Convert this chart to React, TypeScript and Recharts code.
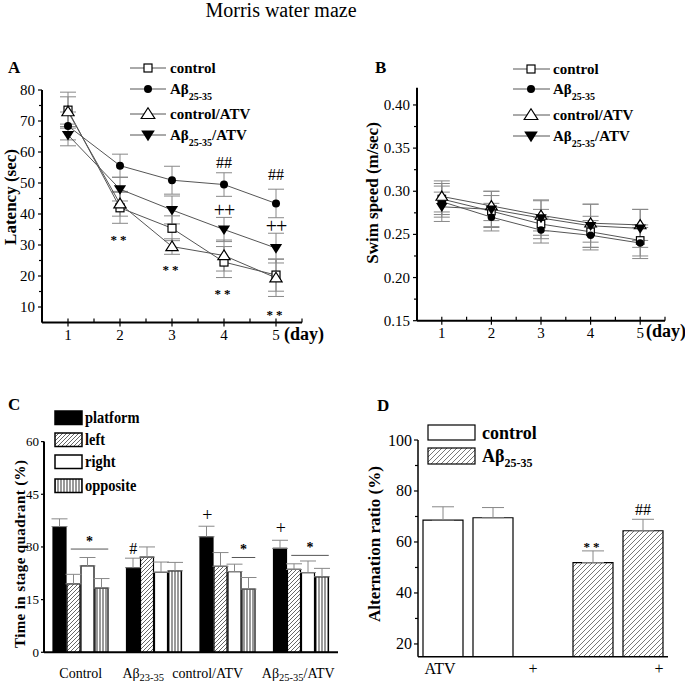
import React from 'react';
import { ComposedChart, Line, Bar, Cell, XAxis, YAxis, ErrorBar, ReferenceDot } from 'recharts';

const FONT = '"Liberation Serif", "Times New Roman", serif';

// ---------- Panel A: latency ----------
const days = [1, 2, 3, 4, 5];
const dayTicks = [0.5, 1, 1.5, 2, 2.5, 3, 3.5, 4, 4.5, 5, 5.5];
const latencyControl = [73.5, 42.0, 35.4, 24.5, 20.3];
const latencyControlErr = [5.8, 5.0, 4.0, 5.0, 5.2];
const latencyAbeta = [68.4, 55.6, 50.9, 49.5, 43.4];
const latencyAbetaErr = [4.5, 3.7, 4.5, 3.8, 4.6];
const latencyControlAtv = [73.0, 43.3, 29.5, 26.6, 19.4];
const latencyControlAtvErr = [4.8, 4.0, 2.5, 5.0, 6.0];
const latencyAbetaAtv = [65.5, 48.0, 41.3, 35.0, 29.0];
const latencyAbetaAtvErr = [3.5, 3.8, 4.5, 3.9, 4.8];
const latencyTicks = [10, 15, 20, 25, 30, 35, 40, 45, 50, 55, 60, 65, 70, 75, 80];
const latencyMarkDays = [2, 3, 4, 5, 4, 5, 4, 5];
const latencyMarkValues = [33.2, 23.5, 15.8, 8.8, 56.5, 52.8, 41.3, 36.1];
const latencyMarkTexts = ['**', '**', '**', '**', '##', '##', '++', '++'];

// ---------- Panel B: swim speed ----------
const speedControl = [0.291, 0.277, 0.262, 0.253, 0.243];
const speedControlErr = [0.018, 0.018, 0.017, 0.018, 0.018];
const speedAbeta = [0.288, 0.27, 0.255, 0.249, 0.24];
const speedAbetaErr = [0.018, 0.016, 0.015, 0.017, 0.018];
const speedControlAtv = [0.294, 0.283, 0.272, 0.263, 0.261];
const speedControlAtvErr = [0.018, 0.017, 0.018, 0.022, 0.018];
const speedAbetaAtv = [0.282, 0.279, 0.269, 0.26, 0.257];
const speedAbetaAtvErr = [0.017, 0.021, 0.02, 0.025, 0.022];
const speedTicks = [0.15, 0.175, 0.2, 0.225, 0.25, 0.275, 0.3, 0.325, 0.35, 0.375, 0.4];

// series (shared by A and B)
const seriesKeys = ['control', 'abeta', 'controlAtv', 'abetaAtv'];
const seriesMain = ['control', 'Aβ', 'control/ATV', 'Aβ'];
const seriesSub = ['', '25-35', '', '25-35'];
const seriesTail = ['', '', '', '/ATV'];
const seriesMarkers = ['square', 'circle', 'triUp', 'triDown'];

// ---------- Panel C: quadrant ----------
const quadrantGroups = ['Control', 'Aβ23-35', 'control/ATV', 'Aβ25-35/ATV'];
const quadrantLabelMain = ['Control', 'Aβ', 'control/ATV', 'Aβ'];
const quadrantLabelSub = ['', '23-35', '', '25-35'];
const quadrantLabelTail = ['', '', '', '/ATV'];
const platform = [35.8, 24.1, 32.9, 29.6];
const platformErr = [2.2, 2.7, 3.0, 2.3];
const left = [19.5, 27.1, 24.5, 23.6];
const leftErr = [2.7, 2.9, 3.9, 1.6];
const right = [24.6, 22.8, 23.0, 22.7];
const rightErr = [2.4, 2.9, 2.1, 3.3];
const opposite = [18.3, 23.2, 18.0, 21.5];
const oppositeErr = [2.7, 2.4, 3.3, 2.4];
const quadrantTicks = [0, 15, 30, 45, 60];
const quadrantSeries = ['platform', 'left', 'right', 'opposite'];
// significance brackets: group, first and last quadrant covered, level
const bracketGroups = ['Control', 'control/ATV', 'Aβ25-35/ATV'];
const bracketFrom = [1, 2, 1];
const bracketTo = [3, 3, 3];
const bracketValues = [29.4, 27.0, 27.6];
// marks above the platform bar
const platformMarkGroups = ['Aβ23-35', 'control/ATV', 'Aβ25-35/ATV'];
const platformMarkValues = [29.7, 39.0, 35.4];
const platformMarkTexts = ['#', '+', '+'];

// ---------- Panel D: alternation ----------
const alternationSlots = ['control-', 'control+', 'blank', 'abeta-', 'abeta+'];
const alternationTickLabels = ['ATV', '', '+', '', '+'];
const alternationGroup = ['control', 'control', '', 'abeta', 'abeta'];
const alternationValues = [68.6, 69.5, null, 51.9, 64.4];
const alternationErr = [5.2, 4.0, null, 4.6, 4.5];
const alternationTicks = [20, 30, 40, 50, 60, 70, 80, 90, 100];
const alternationMarkSlots = ['abeta-', 'abeta+'];
const alternationMarkValues = [59.6, 72.9];
const alternationMarkTexts = ['**', '##'];

// ---------- built tables ----------
const latencyData = days.map((d, i) => ({
  day: d,
  control: latencyControl[i], controlErr: latencyControlErr[i],
  abeta: latencyAbeta[i], abetaErr: latencyAbetaErr[i],
  controlAtv: latencyControlAtv[i], controlAtvErr: latencyControlAtvErr[i],
  abetaAtv: latencyAbetaAtv[i], abetaAtvErr: latencyAbetaAtvErr[i],
}));
const speedData = days.map((d, i) => ({
  day: d,
  control: speedControl[i], controlErr: speedControlErr[i],
  abeta: speedAbeta[i], abetaErr: speedAbetaErr[i],
  controlAtv: speedControlAtv[i], controlAtvErr: speedControlAtvErr[i],
  abetaAtv: speedAbetaAtv[i], abetaAtvErr: speedAbetaAtvErr[i],
}));
const quadrantData = quadrantGroups.map((g, i) => ({
  group: g,
  platform: platform[i], platformErr: platformErr[i],
  left: left[i], leftErr: leftErr[i],
  right: right[i], rightErr: rightErr[i],
  opposite: opposite[i], oppositeErr: oppositeErr[i],
}));
const alternationData = alternationSlots.map((s, i) => ({
  slot: s, value: alternationValues[i], err: alternationErr[i], group: alternationGroup[i],
}));

// ---------- helpers ----------
function Marker({ kind, cx, cy, size }: any) {
  const s = size;
  if (kind === 'square')
    return <rect x={cx - s / 2} y={cy - s / 2} width={s} height={s} fill="#fff" stroke="#000" strokeWidth={1.2} />;
  if (kind === 'circle') return <circle cx={cx} cy={cy} r={s / 2} fill="#000" />;
  const hw = s * 0.68;
  if (kind === 'triUp')
    return (
      <polygon
        points={`${cx},${cy - s * 0.62} ${cx - hw},${cy + s * 0.45} ${cx + hw},${cy + s * 0.45}`}
        fill="#fff" stroke="#000" strokeWidth={1.2}
      />
    );
  return (
    <polygon points={`${cx},${cy + s * 0.62} ${cx - hw},${cy - s * 0.45} ${cx + hw},${cy - s * 0.45}`} fill="#000" />
  );
}

const DayTick = (p: any) => {
  const { x, y, payload } = p;
  const v = payload.value;
  const major = Number.isInteger(v);
  return (
    <g>
      <line x1={x} x2={x} y1={y - 4} y2={major ? y + 4 : y} stroke="#000" strokeWidth={1.2} />
      {major && (
        <text x={x} y={y + 12} textAnchor="middle" dominantBaseline="central" fontSize={15} fontFamily={FONT} fill="#000">
          {v}
        </text>
      )}
    </g>
  );
};

const makeYTick = (isMajor: (v: number) => boolean, fmt: (v: number) => string, fontSize: number, majorLen: number, minorLen: number, gap: number) =>
  (p: any) => {
    const { x, y, payload } = p;
    const v = payload.value;
    const major = isMajor(v);
    return (
      <g>
        <line x1={x} x2={x - (major ? majorLen : minorLen)} y1={y} y2={y} stroke="#000" strokeWidth={1.2} />
        {major && (
          <text x={x - majorLen - gap} y={y} textAnchor="end" dominantBaseline="central" fontSize={fontSize} fontFamily={FONT} fill="#000">
            {fmt(v)}
          </text>
        )}
      </g>
    );
  };

const near = (a: number, b: number) => Math.abs(a - b) < 1e-6;
const LatencyYTick = makeYTick((v) => v % 10 === 0, (v) => String(v), 15, 4, 3, 3);
const SpeedYTick = makeYTick((v) => near(Math.round(v * 20) / 20, v), (v) => v.toFixed(2), 15, 4, 3, 3);
const QuadrantYTick = makeYTick(() => true, (v) => String(v), 13, 3, 2, 2);
const AlternationYTick = makeYTick((v) => v % 20 === 0, (v) => String(v), 16, 4, 3, 2);

const markStyle = (text: string) => {
  if (text.includes('*')) return { fontSize: text.length > 1 ? 13 : 14, weight: 'bold', dy: 4, spacing: text.length > 1 ? 3 : 0 };
  if (text.includes('#')) return { fontSize: 16, weight: 'normal', dy: 0, spacing: 0 };
  return { fontSize: text.length > 1 ? 20 : 18, weight: 'normal', dy: 0, spacing: -1 };
};
const MarkText = ({ x, y, text }: any) => {
  const st = markStyle(text);
  return (
    <text x={x} y={y + st.dy} textAnchor="middle" dominantBaseline="central" fontSize={st.fontSize}
      fontWeight={st.weight} letterSpacing={st.spacing} fontFamily={FONT} fill="#000">
      {text}
    </text>
  );
};
const markShape = (text: string, dx = 0) => (p: any) => <MarkText x={p.cx + dx} y={p.cy} text={text} />;

const axisStroke = { stroke: '#000', strokeWidth: 2 };

function LineSeries(sizes: number) {
  return seriesKeys.map((k, i) => (
    <Line
      key={k}
      dataKey={k}
      stroke="#555"
      strokeWidth={1}
      isAnimationActive={false}
      activeDot={false}
      dot={(p: any) => <Marker key={`${k}-${p.index}`} kind={seriesMarkers[i]} cx={p.cx} cy={p.cy} size={seriesMarkers[i].startsWith('tri') ? sizes + 1 : sizes} />}
    >
      <ErrorBar dataKey={`${k}Err`} width={8} stroke="#888" strokeWidth={1} direction="y" />
    </Line>
  ));
}

function LatencyChart() {
  return (
    <ComposedChart width={340} height={345} data={latencyData} margin={{ top: 90, right: 38, bottom: 2.5, left: 12 }}>
      <XAxis dataKey="day" type="number" domain={[0.5, 5.5]} ticks={dayTicks} interval={0} allowDataOverflow
        tickSize={0} tickMargin={0} tickLine={false} axisLine={axisStroke} tick={(p: any) => <DayTick {...p} />} height={20} />
      <YAxis type="number" domain={[5, 80]} ticks={latencyTicks} interval={0} allowDataOverflow
        tickSize={0} tickMargin={0} tickLine={false} axisLine={axisStroke} tick={LatencyYTick} width={30} />
      {LineSeries(8)}
      {latencyMarkTexts.map((t, i) => (
        <ReferenceDot key={`am${i}`} x={latencyMarkDays[i]} y={latencyMarkValues[i]} r={0} shape={markShape(t)} />
      ))}
    </ComposedChart>
  );
}

function SpeedChart() {
  return (
    <ComposedChart width={345} height={345} data={speedData} margin={{ top: 87.7, right: 20, bottom: 4.3, left: 37 }}>
      <XAxis dataKey="day" type="number" domain={[0.5, 5.5]} ticks={dayTicks} interval={0} allowDataOverflow
        tickSize={0} tickMargin={0} tickLine={false} axisLine={axisStroke} tick={(p: any) => <DayTick {...p} />} height={20} />
      <YAxis type="number" domain={[0.15, 0.42]} ticks={speedTicks} interval={0} allowDataOverflow
        tickSize={0} tickMargin={0} tickLine={false} axisLine={axisStroke} tick={SpeedYTick} width={40} />
      {LineSeries(7.5)}
    </ComposedChart>
  );
}

// label placement tweaks (the original labels are not centred under their groups)
const groupLabelShift = [0, -11, -20, -3];
const GroupTick = (p: any) => {
  const { x, y, payload } = p;
  const i = quadrantGroups.indexOf(payload.value);
  return (
    <text x={x + groupLabelShift[i]} y={y + 21} textAnchor="middle" dominantBaseline="central" fontSize={14} fontFamily={FONT} fill="#000">
      {quadrantLabelMain[i]}
      {quadrantLabelSub[i] && <tspan fontSize={10.5} dy={4}>{quadrantLabelSub[i]}</tspan>}
      {quadrantLabelTail[i] && <tspan fontSize={14} dy={-4}>{quadrantLabelTail[i]}</tspan>}
    </text>
  );
};

const quadrantFill: any = { platform: '#000', left: 'url(#hatchC)', right: '#fff', opposite: 'url(#vertC)' };
const BAR_C = 13;
const GAP_C = 1;
const seriesOffset = (j: number) => (j - (quadrantSeries.length - 1) / 2) * (BAR_C + GAP_C);

const bracketShape = (from: number, to: number) => (p: any) => {
  const x1 = p.cx + seriesOffset(from) - 3;
  const x2 = p.cx + seriesOffset(to) + BAR_C / 2;
  return (
    <g>
      <line x1={x1} x2={x2} y1={p.cy} y2={p.cy} stroke="#555" strokeWidth={1} />
      <MarkText x={(x1 + x2) / 2} y={p.cy - 12} text="*" />
    </g>
  );
};

function QuadrantChart() {
  return (
    <ComposedChart width={370} height={294} data={quadrantData} margin={{ top: 51.6, right: 32, bottom: 1.7, left: 14 }} barGap={GAP_C}>
      <XAxis dataKey="group" interval={0} tickSize={0} tickMargin={0} tickLine={false}
        axisLine={axisStroke} tick={(p: any) => <GroupTick {...p} />} height={30} />
      <YAxis type="number" domain={[0, 60]} ticks={quadrantTicks} interval={0} allowDataOverflow
        tickSize={0} tickMargin={0} tickLine={false} axisLine={axisStroke} tick={QuadrantYTick} width={30} />
      {quadrantSeries.map((k) => (
        <Bar key={k} dataKey={k} fill={quadrantFill[k]} stroke="#000" strokeWidth={1.2} barSize={BAR_C} isAnimationActive={false}>
          <ErrorBar dataKey={(d: any) => [0, d[`${k}Err`]]} width={8} stroke="#888" strokeWidth={1} direction="y" />
        </Bar>
      ))}
      {bracketGroups.map((g, i) => (
        <ReferenceDot key={`br${i}`} x={g} y={bracketValues[i]} r={0} shape={bracketShape(bracketFrom[i], bracketTo[i])} />
      ))}
      {platformMarkGroups.map((g, i) => (
        <ReferenceDot key={`pm${i}`} x={g} y={platformMarkValues[i]} r={0} shape={markShape(platformMarkTexts[i], seriesOffset(0))} />
      ))}
    </ComposedChart>
  );
}

// label placement tweaks (the original "+" labels sit off the slot centres)
const slotLabelShift = [-3, 0, -10, 0, 16];
const SlotTick = (p: any) => {
  const { x, y, payload } = p;
  const i = alternationSlots.indexOf(payload.value);
  return (
    <text x={x + slotLabelShift[i]} y={y + 12} textAnchor="middle" dominantBaseline="central" fontSize={16} fontFamily={FONT} fill="#000">
      {alternationTickLabels[i]}
    </text>
  );
};

function AlternationChart() {
  return (
    <ComposedChart width={345} height={294} data={alternationData} margin={{ top: 50, right: 17, bottom: 2.3, left: 38 }}>
      <XAxis dataKey="slot" interval={0} tickSize={0} tickMargin={0} tickLine={false}
        axisLine={{ stroke: '#000', strokeWidth: 1.5 }} tick={(p: any) => <SlotTick {...p} />} height={25} />
      <YAxis type="number" domain={[15, 100]} ticks={alternationTicks} interval={0} allowDataOverflow
        tickSize={0} tickMargin={0} tickLine={false} axisLine={{ stroke: '#000', strokeWidth: 1.5 }} tick={AlternationYTick} width={40} />
      <Bar dataKey="value" barSize={40} stroke="#000" strokeWidth={1.2} isAnimationActive={false}>
        {alternationData.map((d, i) => (
          <Cell key={`c${i}`} fill={d.group === 'abeta' ? 'url(#hatchD)' : '#fff'} />
        ))}
        <ErrorBar dataKey={(d: any) => (d.err == null ? null : [0, d.err])} width={11} stroke="#888" strokeWidth={1} direction="y" />
      </Bar>
      {alternationMarkTexts.map((t, i) => (
        <ReferenceDot key={`dm${i}`} x={alternationMarkSlots[i]} y={alternationMarkValues[i]} r={0} shape={markShape(t)} />
      ))}
    </ComposedChart>
  );
}

function LabelText({ x, y, i, fontSize, subSize }: any) {
  return (
    <text x={x} y={y} fontSize={fontSize} fontWeight="bold" fontFamily={FONT} fill="#000">
      {seriesMain[i]}
      {seriesSub[i] && <tspan fontSize={subSize} dy={6}>{seriesSub[i]}</tspan>}
      {seriesTail[i] && <tspan fontSize={fontSize} dy={-6}>{seriesTail[i]}</tspan>}
    </text>
  );
}

function Overlay() {
  const legA = [68, 89, 114, 135];
  const legB = [69, 89, 115, 136];
  const legC = [411, 433, 455, 479];
  const t: any = { fontFamily: FONT, fill: '#000' };
  return (
    <svg width={685} height={684} style={{ position: 'absolute', left: 0, top: 0, pointerEvents: 'none' }}>
      <text x={281} y={17} textAnchor="middle" fontSize={20} {...t}>Morris water maze</text>
      <text x={8} y={73} fontSize={17} fontWeight="bold" {...t}>A</text>
      <text x={375} y={73} fontSize={17} fontWeight="bold" {...t}>B</text>
      <text x={8} y={410} fontSize={17} fontWeight="bold" {...t}>C</text>
      <text x={377} y={411} fontSize={17} fontWeight="bold" {...t}>D</text>

      <text transform="translate(16,197) rotate(-90)" textAnchor="middle" fontSize={17} fontWeight="bold" {...t}>Latency (sec)</text>
      <text transform="translate(378,193) rotate(-90)" textAnchor="middle" fontSize={17} fontWeight="bold" {...t}>Swim speed (m/sec)</text>
      <text transform="translate(25,554) rotate(-90)" textAnchor="middle" fontSize={15} fontWeight="bold" textLength={188} lengthAdjust="spacing" {...t}>Time in stage quadrant (%)</text>
      <text transform="translate(380,544) rotate(-90)" textAnchor="middle" fontSize={17} fontWeight="bold" {...t}>Alternation ratio (%)</text>

      <text x={284} y={340} fontSize={18} fontWeight="bold" {...t}>(day)</text>
      <text x={646} y={337} fontSize={18} fontWeight="bold" {...t}>(day)</text>

      {legA.map((cy, i) => (
        <g key={`la${i}`}>
          <line x1={130} x2={166} y1={cy} y2={cy} stroke="#555" strokeWidth={1} />
          <Marker kind={seriesMarkers[i]} cx={148} cy={cy} size={seriesMarkers[i].startsWith('tri') ? 10 : 8} />
          <LabelText x={170} y={cy + 5} i={i} fontSize={15} subSize={10} />
        </g>
      ))}
      {legB.map((cy, i) => (
        <g key={`lb${i}`}>
          <line x1={513} x2={550} y1={cy} y2={cy} stroke="#555" strokeWidth={1} />
          <Marker kind={seriesMarkers[i]} cx={531} cy={cy} size={seriesMarkers[i].startsWith('tri') ? 10 : 8} />
          <LabelText x={553} y={cy + 5} i={i} fontSize={15} subSize={10} />
        </g>
      ))}
      {legC.map((y, i) => (
        <g key={`lc${i}`}>
          <rect x={55} y={y} width={27} height={13.5} fill={quadrantFill[quadrantSeries[i]]} stroke="#000" strokeWidth={1.5} />
          <text transform={`translate(85,${y + 12}) scale(0.85,1)`} fontSize={17} fontWeight="bold" {...t}>{quadrantSeries[i]}</text>
        </g>
      ))}
      <rect x={428} y={425} width={47} height={15} fill="#fff" stroke="#000" strokeWidth={1.2} />
      <text x={482} y={439} fontSize={18} fontWeight="bold" {...t}>control</text>
      <rect x={428} y={448} width={47} height={16} fill="url(#hatchD)" stroke="#000" strokeWidth={1.2} />
      <text x={482} y={462} fontSize={18} fontWeight="bold" {...t}>Aβ<tspan fontSize={12} dy={5}>25-35</tspan></text>
    </svg>
  );
}

export default function App() {
  return (
    <div style={{ position: 'absolute', left: 0, top: 0, width: 685, height: 684, background: '#fff', overflow: 'hidden' }}>
      <svg width={0} height={0} style={{ position: 'absolute' }}>
        <defs>
          <pattern id="hatchC" patternUnits="userSpaceOnUse" width="4" height="4">
            <rect width="4" height="4" fill="#fff" />
            <path d="M-1,1 l2,-2 M0,4 l4,-4 M3,5 l2,-2" stroke="#666" strokeWidth="1" />
          </pattern>
          <pattern id="vertC" patternUnits="userSpaceOnUse" width="3" height="4">
            <rect width="3" height="4" fill="#fff" />
            <line x1="1" x2="1" y1="0" y2="4" stroke="#555" strokeWidth="1.2" />
          </pattern>
          <pattern id="hatchD" patternUnits="userSpaceOnUse" width="5" height="5">
            <rect width="5" height="5" fill="#fff" />
            <path d="M-1,1 l2,-2 M0,5 l5,-5 M4,6 l2,-2" stroke="#777" strokeWidth="1" />
          </pattern>
        </defs>
      </svg>
      <div style={{ position: 'absolute', left: 0, top: 0 }}><LatencyChart /></div>
      <div style={{ position: 'absolute', left: 340, top: 0 }}><SpeedChart /></div>
      <div style={{ position: 'absolute', left: 0, top: 390 }}><QuadrantChart /></div>
      <div style={{ position: 'absolute', left: 340, top: 390 }}><AlternationChart /></div>
      <Overlay />
    </div>
  );
}
